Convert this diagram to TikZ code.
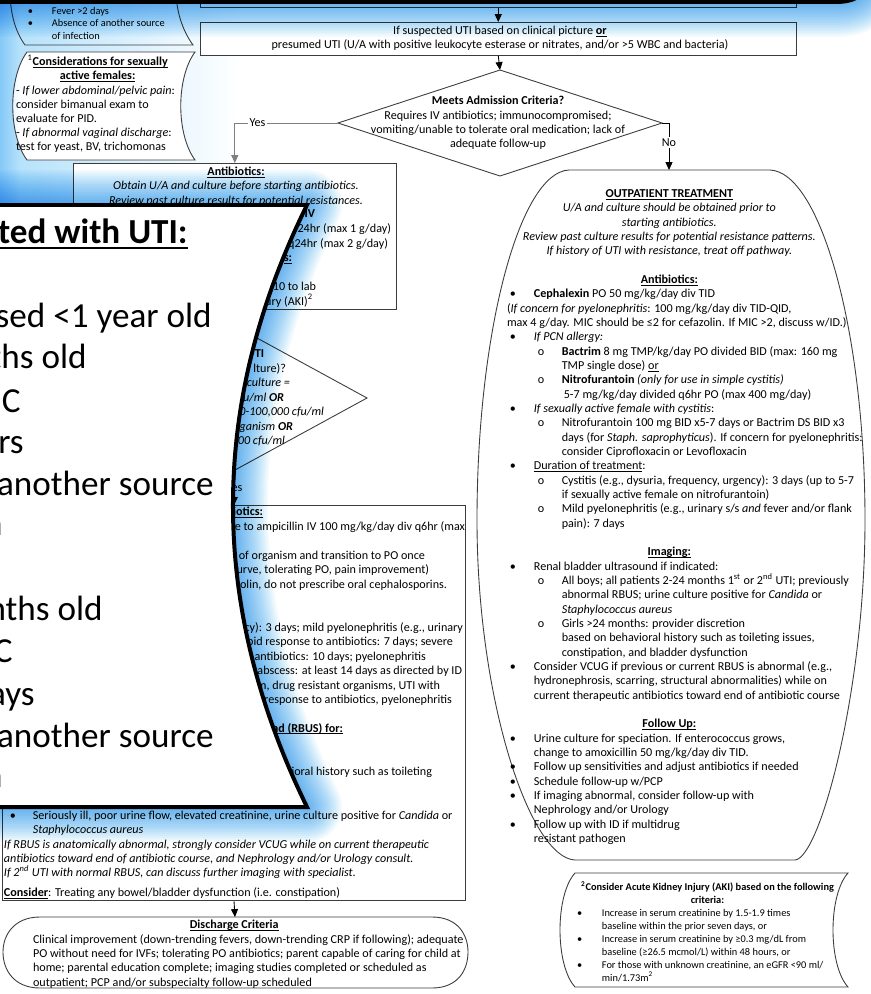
\documentclass[tikz,border=0pt]{standalone}
\usepackage{fontspec}
\setmainfont{Carlito}
\usetikzlibrary{arrows.meta}
\newdimen\px \px=0.56693pt
\newsavebox\ulxbox
\newcommand\ulx[1]{\sbox\ulxbox{#1}\rlap{\rule[-1.1pt]{\wd\ulxbox}{0.4pt}}\usebox\ulxbox}
\newcommand\ulthick[1]{\sbox\ulxbox{#1}\rlap{\rule[-3.2pt]{\wd\ulxbox}{1.1pt}}\usebox\ulxbox}
\definecolor{glow}{RGB}{80,185,245}
\definecolor{edge}{RGB}{60,60,60}
\newcommand\fm{\fontsize{6.9}{8.16}\selectfont}
\newcommand\fc{\fontsize{6.9}{8.05}\selectfont}
\newcommand\fsm{\fontsize{5.9}{7.35}\selectfont}
\newcommand\fbig{\fontsize{20}{23.8}\selectfont}
\newcommand\Ba[1]{\hspace*{3\px}\makebox[24\px][l]{•}#1}
\newcommand\Bac[1]{\hspace*{27\px}#1}
\newcommand\Bb[1]{\hspace*{31\px}\makebox[24\px][l]{o}#1}
\newcommand\Bbc[1]{\hspace*{55\px}#1}
\newcommand\Ctr[1]{\makebox[326\px][c]{#1}}
\newcommand\fr[4]{\node[frag] (#1) at (#2,#3) {#4};}
\newcommand\bg[4]{\node[big] (#1) at (#2,#3) {#4};}
\begin{document}
\begin{tikzpicture}[x=0.02cm, y=-0.02cm,
  box/.style={draw=edge, line width=0.5pt},
  conn/.style={draw=black, line width=0.5pt, -{Triangle[length=4.5pt,width=4pt]}},
  txt/.style={inner sep=0pt, outer sep=0pt, font=\fm},
  frag/.style={txt, anchor=base east},
  big/.style={inner sep=0pt, font=\fbig, anchor=base east},
  lab/.style={txt, fill=white, inner sep=1pt}]
\useasboundingbox (0,0) rectangle (871,994);
\fill[white] (0,0) rectangle (871,994);
% soft blue background at top left
\shade[left color=glow!45, right color=white] (0,0) rectangle (240,205);

% ---------- top part ----------
\node[box, fill=white, minimum width=598\px, minimum height=30\px, anchor=south west] (topbox) at (200,8) {};
\node[box, fill=white, minimum width=598\px, minimum height=33\px, anchor=north west] (sus) at (200,22) {};
\node[txt, align=center, anchor=base] (sustxt) at (500,48.9) {If suspected UTI based on clinical picture \textbf{\ulx{or}}\\presumed UTI (U/A with positive leukocyte esterase or nitrates, and/or >5 WBC and bacteria)};
\draw[conn] (topbox.south) -- (sus.north);

\coordinate (d1t) at (500,70); \coordinate (d1r) at (662,123);
\coordinate (d1b) at (500,176); \coordinate (d1l) at (338,123);
\draw[box] (d1t) -- (d1r) -- (d1b) -- (d1l) -- cycle;
\draw[conn] (sus.south) -- (d1t);
\node[txt, align=center, anchor=base] (d1txt) at (498,147.7) {\textbf{Meets Admission Criteria?}\\Requires IV antibiotics; immunocompromised;\\vomiting/unable to tolerate oral medication; lack of\\adequate follow-up};

% fever shape (lower part)
\draw[box] (10,-10) .. controls (10,10) and (14,30) .. (25,45) -- (193,45) .. controls (182,30) and (176,10) .. (176,-10);
\node[txt, font=\fsm, align=left, anchor=base west] (fevtxt) at (28,39.9) {\makebox[24\px][l]{•}Fever >2 days\\\makebox[24\px][l]{•}Absence of another source\\\hspace*{24\px}of infection};

% considerations shape
\draw[box, fill=white] (27,52) -- (195,52) .. controls (176,78) and (176,134) .. (195,160) -- (27,160) .. controls (8,134) and (8,78) .. (27,52) -- cycle;
\node[txt, font=\fc, align=left, anchor=base west] (constxt) at (16,150.7) {\makebox[164\px][c]{\textsuperscript{1}\textbf{\ulx{Considerations for sexually}}}\\\makebox[164\px][c]{\textbf{\ulx{active females:}}}\\- \textit{If lower abdominal/pelvic pain}:\\consider bimanual exam to\\evaluate for PID.\\- \textit{If abnormal vaginal discharge}:\\test for yeast, BV, trichomonas};

% ---------- inpatient column ----------
\node[box, fill=white, minimum width=324\px, minimum height=147\px, anchor=north west] (b1) at (73,163) {};
\draw[conn, draw=black!50] (d1l) -| (b1.north) node[lab, pos=0.39] (yes1) {Yes};
\node[txt, align=center, anchor=base] (b1txt) at (236,204.3) {\textbf{\ulx{Antibiotics:}}\\\textit{Obtain U/A and culture before starting antibiotics.}\\\textit{Review past culture results for potential resistances.}};
\fr{f1}{315}{217.5}{\textbf{IV}}
\fr{f2}{391}{232.5}{24hr (max 1 g/day)}
\fr{f3}{388}{247}{q24hr (max 2 g/day)}
\fr{f4}{292}{261.5}{\textbf{\ulx{s:}}}
\fr{f5}{316}{290.5}{10 to lab}
\fr{f6}{313}{305}{ury (AKI)\textsuperscript{2}}

\coordinate (d2t) at (235,326); \coordinate (d2r) at (367,398);
\coordinate (d2b) at (235,470); \coordinate (d2l) at (103,398);
\draw[box] (d2t) -- (d2r) -- (d2b) -- (d2l) -- cycle;
\draw[conn] (b1.south) -- (d2t);
\fr{f7}{264}{357.5}{\textbf{TI}}
\fr{f8}{286}{372}{lture)?}
\fr{f9}{290}{386.5}{\textit{culture =}}
\fr{f10}{284}{401}{\textit{u/ml \textbf{OR}}}
\fr{f11}{324}{415.5}{\textit{0-100,000 cfu/ml}}
\fr{f12}{293}{430}{\textit{ganism \textbf{OR}}}
\fr{f13}{285}{444.5}{\textit{00 cfu/ml}}

\node[box, minimum width=465\px, minimum height=397\px, anchor=north west] (b2) at (2,505) {};
\draw[conn] (d2b) -- (b2.north) node[lab, midway] (yes2) {Yes};
\fr{g1}{263}{515.5}{\textbf{\ulx{iotics:}}}
\fr{g2}{465}{530}{e to ampicillin IV 100 mg/kg/day div q6hr (max}
\fr{g3}{425}{559}{of organism and transition to PO once}
\fr{g4}{429}{573.5}{urve, tolerating PO, pain improvement)}
\fr{g5}{447}{588}{olin, do not prescribe oral cephalosporins.}
\fr{g6}{463}{631}{cy): 3 days; mild pyelonephritis (e.g., urinary}
\fr{g7}{453}{645.5}{pid response to antibiotics: 7 days; severe}
\fr{g8}{426}{660}{antibiotics: 10 days; pyelonephritis}
\fr{g9}{462}{674.5}{abscess: at least 14 days as directed by ID}
\fr{g10}{440}{689}{m, drug resistant organisms, UTI with}
\fr{g11}{452}{703.5}{response to antibiotics, pyelonephritis}
\fr{g12}{343}{732}{\textbf{\ulx{nd (RBUS) for:}}}
\fr{g13}{432}{775.5}{ioral history such as toileting}
\node[txt, align=left, anchor=base west] (b2txt) at (4,896.5) {\hspace*{6\px}\makebox[23\px][l]{•}Seriously ill, poor urine flow, elevated creatinine, urine culture positive for \textit{Candida} or\\\hspace*{29\px}\textit{Staphylococcus aureus}\\\textit{If RBUS is anatomically abnormal, strongly consider VCUG while on current therapeutic}\\\textit{antibiotics toward end of antibiotic course, and Nephrology and/or Urology consult.}\\\textit{If 2\textsuperscript{nd} UTI with normal RBUS, can discuss further imaging with specialist.}\\[5.5\px]\textbf{\ulx{Consider}}: Treating any bowel/bladder dysfunction (i.e. constipation)};

% discharge
\coordinate (dctop) at (235,917);
\draw[box] (40,917) -- (432,917) .. controls (458,917) and (468,935) .. (468,952) .. controls (468,970) and (458,988) .. (432,988) -- (40,988) .. controls (14,988) and (3,970) .. (3,952) .. controls (3,935) and (14,917) .. (40,917) -- cycle;
\draw[conn] (b2.south) -- (dctop);
\node[txt, align=left, anchor=base west] (dctxt) at (33,986.1) {\makebox[404\px][c]{\textbf{\ulx{Discharge Criteria}}}\\Clinical improvement (down-trending fevers, down-trending CRP if following); adequate\\PO without need for IVFs; tolerating PO antibiotics; parent capable of caring for child at\\home; parental education complete; imaging studies completed or scheduled as\\outpatient; PCP and/or subspecialty follow-up scheduled};

% ---------- outpatient ----------
\coordinate (optop) at (669,170);
\draw[box] (569,170) -- (770,170) .. controls (820,172) and (865,330) .. (865,520) .. controls (865,690) and (820,858) .. (795,860) -- (575,860) .. controls (530,858) and (477,700) .. (477,520) .. controls (477,330) and (520,172) .. (569,170) -- cycle;
\draw[conn] (d1r) -| (optop) node[lab, pos=0.71] (no1) {No};
\node[txt, align=left, anchor=base west] (optxt) at (507,842.6) {\Ctr{\textbf{\ulx{OUTPATIENT TREATMENT}}}\\
\Ctr{\textit{U/A and culture should be obtained prior to}}\\
\Ctr{\textit{starting antibiotics.}}\\
\Ctr{\textit{Review past culture results for potential resistance patterns.}}\\
\Ctr{\textit{If history of UTI with resistance, treat off pathway.}}\\
\mbox{}\\
\Ctr{\textbf{\ulx{Antibiotics:}}}\\
\Ba{\textbf{Cephalexin} PO 50 mg/kg/day div TID}\\
(\textit{If concern for pyelonephritis}: 100 mg/kg/day div TID-QID,\\
max 4 g/day. MIC should be ≤2 for cefazolin. If MIC >2, discuss w/ID.)\\
\Ba{\textit{If PCN allergy:}}\\
\Bb{\textbf{Bactrim} 8 mg TMP/kg/day PO divided BID (max: 160 mg}\\
\Bbc{TMP single dose) \ulx{or}}\\
\Bb{\textbf{Nitrofurantoin} \textit{(only for use in simple cystitis)}}\\
\Bbc{\,5-7 mg/kg/day divided q6hr PO (max 400 mg/day)}\\
\Ba{\textit{If sexually active female with cystitis}:}\\
\Bb{Nitrofurantoin 100 mg BID x5-7 days or Bactrim DS BID x3}\\
\Bbc{days (for \textit{Staph. saprophyticus}). If concern for pyelonephritis:}\\
\Bbc{consider Ciprofloxacin or Levofloxacin}\\
\Ba{\ulx{Duration of treatment}:}\\
\Bb{Cystitis (e.g., dysuria, frequency, urgency): 3 days (up to 5-7}\\
\Bbc{if sexually active female on nitrofurantoin)}\\
\Bb{Mild pyelonephritis (e.g., urinary s/s \textit{and} fever and/or flank}\\
\Bbc{pain): 7 days}\\
\mbox{}\\
\Ctr{\textbf{\ulx{Imaging:}}}\\
\Ba{Renal bladder ultrasound if indicated:}\\
\Bb{All boys; all patients 2-24 months 1\textsuperscript{st} or 2\textsuperscript{nd} UTI; previously}\\
\Bbc{abnormal RBUS; urine culture positive for \textit{Candida} or}\\
\Bbc{\textit{Staphylococcus aureus}}\\
\Bb{Girls >24 months: provider discretion}\\
\Bbc{based on behavioral history such as toileting issues,}\\
\Bbc{constipation, and bladder dysfunction}\\
\Ba{Consider VCUG if previous or current RBUS is abnormal (e.g.,}\\
\Bac{hydronephrosis, scarring, structural abnormalities) while on}\\
\Bac{current therapeutic antibiotics toward end of antibiotic course}\\
\mbox{}\\
\Ctr{\textbf{\ulx{Follow Up:}}}\\
\Ba{Urine culture for speciation. If enterococcus grows,}\\
\Bac{change to amoxicillin 50 mg/kg/day div TID.}\\
\Ba{Follow up sensitivities and adjust antibiotics if needed}\\
\Ba{Schedule follow-up w/PCP}\\
\Ba{If imaging abnormal, consider follow-up with}\\
\Bac{Nephrology and/or Urology}\\
\Ba{Follow up with ID if multidrug}\\
\Bac{resistant pathogen}};

% AKI
\draw[box] (575,873) -- (848,873) .. controls (828,895) and (828,965) .. (848,987) -- (575,987) .. controls (555,965) and (555,895) .. (575,873) -- cycle;
\node[txt, font=\fsm, align=left, anchor=base west] (akitxt) at (577,981.2) {\makebox[262\px][c]{\textbf{\textsuperscript{2}Consider Acute Kidney Injury (AKI) based on the following}}\\\makebox[262\px][c]{\textbf{criteria:}}\\\makebox[25\px][l]{•}Increase in serum creatinine by 1.5-1.9 times\\\hspace*{25\px}baseline within the prior seven days, or\\\makebox[25\px][l]{•}Increase in serum creatinine by ≥0.3 mg/dL from\\\hspace*{25\px}baseline (≥26.5 mcmol/L) within 48 hours, or\\\makebox[25\px][l]{•}For those with unknown creatinine, an eGFR <90 ml/\\\hspace*{25\px}min/1.73m\textsuperscript{2}};

% ---------- magnifier glows ----------
\def\toppath{(-60,2) -- (835,2) .. controls (855,2) and (862,-4) .. (870,-16)}
\def\panelpath{(-40,205) -- (307,205) .. controls (208.3,405) and (208.3,605) .. (307,807) -- (-40,807)}
\foreach \w in {70,66,...,6} {
  \draw[glow, line width=\w\px, opacity=0.065, blend mode=multiply, line join=round] \toppath;
  \draw[glow, line width=\w\px, opacity=0.065, blend mode=multiply, line join=round] \panelpath;
}
\shade[left color=glow!35, right color=white, blend mode=multiply] (0,0) rectangle (20,205);

% ---------- magnifier panel ----------
\fill[white] \panelpath -- cycle;
\draw[line width=4\px, line join=miter] \panelpath;
\draw[line width=4\px] \toppath;
\node[big] (m1) at (188,243) {\textbf{\ulthick{ted with UTI:}}};
\bg{m2}{212}{327}{sed <1 year old}
\bg{m3}{87}{368}{ths old}
\bg{m4}{21}{412}{C}
\bg{m5}{24}{453}{rs}
\bg{m6}{214}{495}{another source}
\bg{m7}{3}{535}{n}
\bg{m8}{103}{620}{nths old}
\bg{m9}{13}{662}{C}
\bg{m10}{35}{705}{ays}
\bg{m11}{214}{747}{another source}
\bg{m12}{3}{787}{n}
\end{tikzpicture}
\end{document}
